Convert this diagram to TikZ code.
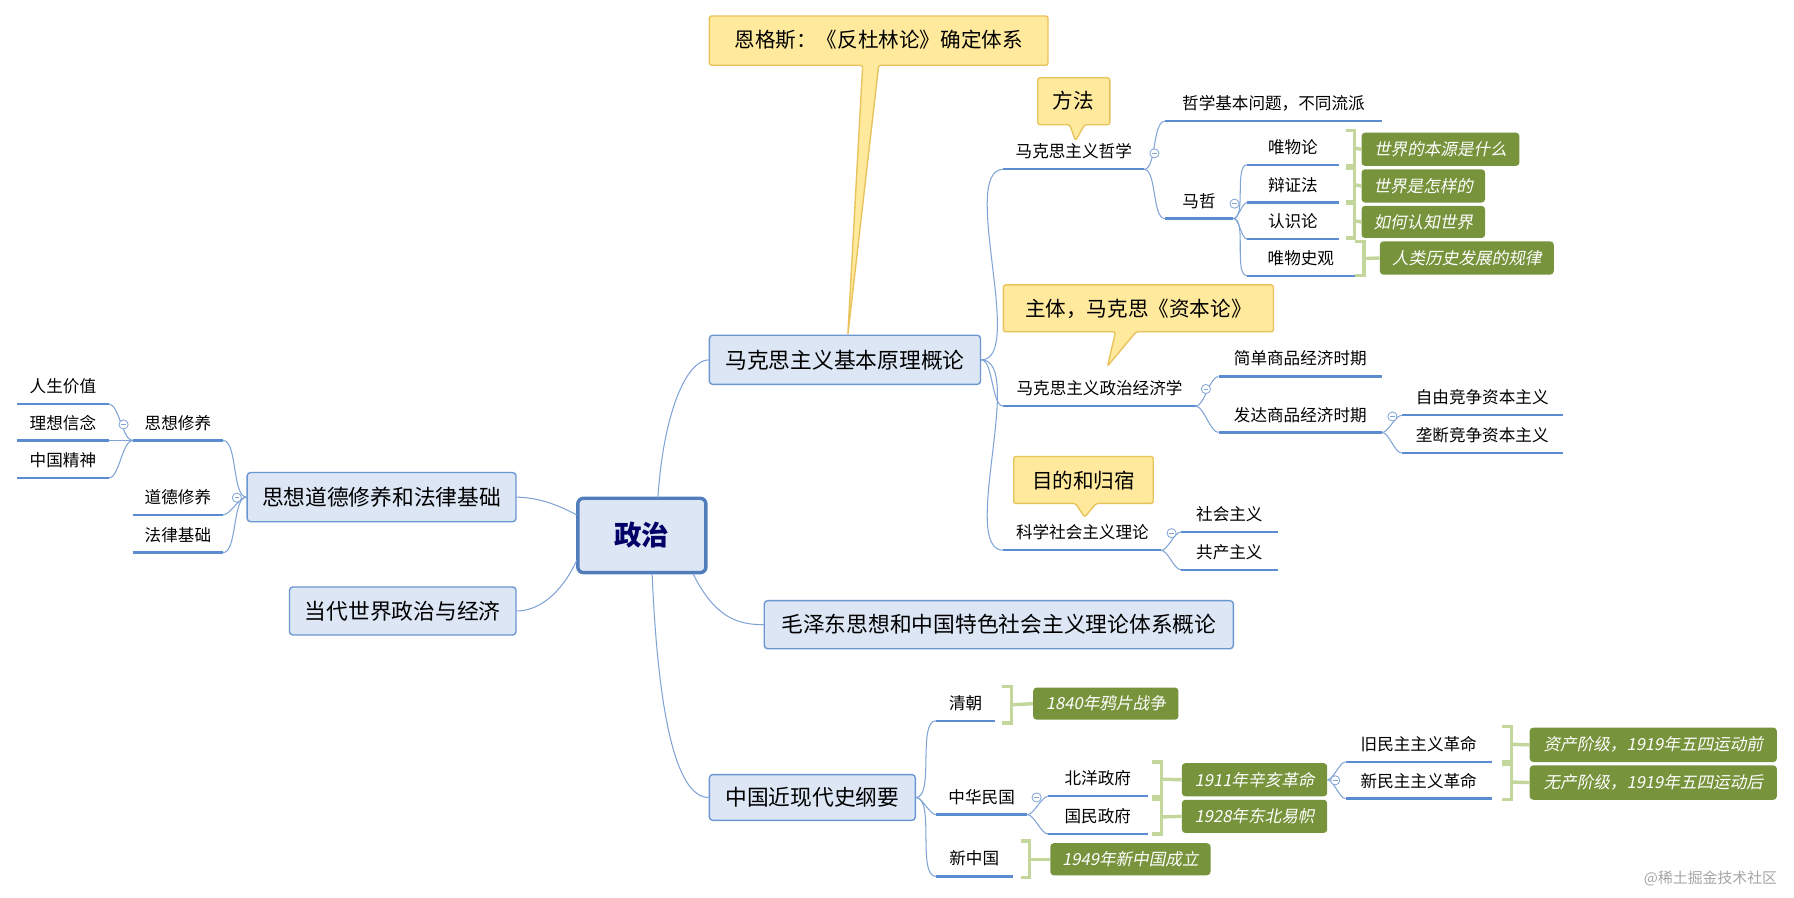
\documentclass[tikz,border=0pt]{standalone}
\usepackage{fontspec}
\setmainfont{Noto Sans CJK SC}
\newfontfamily\cjkit{Noto Sans CJK SC}[FakeSlant=0.2]
\definecolor{ul}{HTML}{5B8BD0}
\definecolor{cn}{HTML}{7FA3D6}
\definecolor{tf}{HTML}{DCE6F4}
\definecolor{tb}{HTML}{6A97D2}
\definecolor{gf}{HTML}{77933C}
\definecolor{gb}{HTML}{C3D69B}
\definecolor{yf}{HTML}{FFE99C}
\definecolor{yb}{HTML}{E8C35C}
\tikzset{
 sub/.style={anchor=base,inner sep=0pt,font=\fontsize{14.5}{16}\selectfont},
 uline/.style={draw=ul,line width=2pt},
 conn/.style={draw=cn,line width=0.9pt},
 topic/.style={draw=tb,fill=tf,line width=1.2pt,rounded corners=3pt,font=\fontsize{19}{22}\selectfont,inner sep=0pt},
 greenbox/.style={fill=gf,rounded corners=3pt,text=white,font=\cjkit\fontsize{14.5}{16}\selectfont,inner sep=0pt},
 brk/.style={draw=gb,line width=3pt},
 callout/.style={draw=yb,fill=yf,line width=1.2pt,rounded corners=2pt},
 ctext/.style={font=\fontsize{18}{20}\selectfont,inner sep=0pt},
 coll/.style={circle,draw=cn,fill=white,line width=0.7pt,minimum size=8pt,inner sep=0pt,
   path picture={\draw[cn,line width=0.7pt] ([xshift=-2pt]path picture bounding box.center)--([xshift=2pt]path picture bounding box.center);}},
}
\newcommand\mm[5]{%
 \node[sub] (#1) at ({(#2+#3)/2},{#4-10}) {#5};
 \coordinate (#1-l) at (#2,#4); \coordinate (#1-r) at (#3,#4);
 \draw[uline] (#1-l)--(#1-r);}
\newcommand\tp[6]{%
 \node[topic,minimum width={#3-#2},minimum height={#5-#4}] (#1) at ({(#2+#3)/2},{(#4+#5)/2}) {#6};}
\newcommand\gbx[6]{%
 \node[greenbox,minimum width={#3-#2},minimum height={#5-#4}] (#1) at ({(#2+#3)/2},{(#4+#5)/2}) {#6};}
\newcommand\bk[4]{%
 \draw[brk] (#1,#2)--({#1+8},#2)--({#1+8},#3)--(#1,#3);
 \coordinate (#4-b) at ({#1+8},{(#2+#3)/2});
 \draw[brk] (#4-b)--(#4.west);}
\begin{document}
\begin{tikzpicture}[x=1pt,y=-1pt]
\useasboundingbox[fill=white] (0,0) rectangle (1568,784);
% center
\node[draw=ul!90!black,fill=tf,line width=3pt,rounded corners=5pt,minimum width=112pt,minimum height=65pt,font=\bfseries\fontsize{24}{26}\selectfont,text=black!60!blue] (c) at (561,468) {政治};
% topics
\tp{mk}{620}{857}{293}{336}{马克思主义基本原理概论}
\tp{sx}{216}{451}{413}{456}{思想道德修养和法律基础}
\tp{dd}{253}{451}{513}{555}{当代世界政治与经济}
\tp{mz}{668}{1078}{525}{567}{毛泽东思想和中国特色社会主义理论体系概论}
\tp{zg}{620}{800}{677}{717}{中国近现代史纲要}
\draw[conn] (575,435) .. controls (580,360) and (600,315) .. (mk.west);
\draw[conn] (504,450) .. controls (485,440) and (470,435) .. (sx.east);
\draw[conn] (504,490) .. controls (490,520) and (470,534) .. (dd.east);
\draw[conn] (606,502) .. controls (625,540) and (645,546) .. (mz.west);
\draw[conn] (570,502) .. controls (575,620) and (590,697) .. (zg.west);
% callouts
\draw[callout] (620,14)--(916,14)--(916,57)--(768,57)--(741,293)--(754,57)--(620,57)--cycle;
\node[ctext] (eg) at (768,35) {恩格斯：《反杜林论》确定体系};
\draw[callout] (907,68)--(970,68)--(970,109)--(948,109)--(940,123)--(935,109)--(907,109)--cycle;
\node[ctext] (ff) at (938,88) {方法};
\draw[callout] (877,249)--(1113,249)--(1113,290)--(993,290)--(968,320)--(975,290)--(877,290)--cycle;
\node[ctext] (zt) at (995,270) {主体，马克思《资本论》};
\draw[callout] (886,399)--(1008,399)--(1008,440)--(958,440)--(948,452)--(940,440)--(886,440)--cycle;
\node[ctext] (md) at (947,420) {目的和归宿};
% Marxism branch
\mm{zx}{877}{1000}{148}{马克思主义哲学}
\mm{jj}{877}{1045}{355}{马克思主义政治经济学}
\mm{kx}{877}{1015}{481}{科学社会主义理论}
\foreach \n in {zx,jj,kx} \draw[conn] (mk.east) to[out=0,in=180,looseness=0.6] (\n-l);
\mm{zw}{1018}{1208}{106}{哲学基本问题，不同流派}
\mm{mzh}{1018}{1078}{191}{马哲}
\foreach \n in {zw,mzh} \draw[conn] (zx-r) to[out=0,in=180,looseness=0.6] (\n-l);
\mm{wwl}{1090}{1170}{144}{唯物论}
\mm{bzf}{1090}{1170}{177}{辩证法}
\mm{rsl}{1090}{1170}{209}{认识论}
\mm{wws}{1090}{1184}{241}{唯物史观}
\foreach \n in {wwl,bzf,rsl,wws} \draw[conn] (mzh-r) to[out=0,in=180,looseness=0.6] (\n-l);
\gbx{g1}{1190}{1328}{116}{145}{世界的本源是什么}
\gbx{g2}{1190}{1298}{148}{177}{世界是怎样的}
\gbx{g3}{1190}{1298}{180}{208}{如何认知世界}
\gbx{g4}{1206}{1358}{211}{240}{人类历史发展的规律}
\bk{1176}{114}{145}{g1}
\bk{1176}{147}{176}{g2}
\bk{1176}{178}{208}{g3}
\bk{1184}{211}{241}{g4}
\mm{jd}{1065}{1208}{329}{简单商品经济时期}
\mm{fd}{1065}{1208}{378}{发达商品经济时期}
\foreach \n in {jd,fd} \draw[conn] (jj-r) to[out=0,in=180,looseness=0.6] (\n-l);
\mm{zy}{1225}{1366}{363}{自由竞争资本主义}
\mm{ld}{1225}{1366}{396}{垄断竞争资本主义}
\foreach \n in {zy,ld} \draw[conn] (fd-r) to[out=0,in=180,looseness=0.6] (\n-l);
\mm{sh}{1032}{1117}{465}{社会主义}
\mm{gc}{1032}{1117}{498}{共产主义}
\foreach \n in {sh,gc} \draw[conn] (kx-r) to[out=0,in=180,looseness=0.6] (\n-l);
\node[coll] (c1) at (1009,134) {};
\node[coll] (c2) at (1079,178) {};
\node[coll] (c3) at (1054,340) {};
\node[coll] (c4) at (1217,364) {};
\node[coll] (c5) at (1024,466) {};
% left branch
\mm{sxx}{116}{195}{385}{思想修养}
\mm{ddx}{116}{195}{450}{道德修养}
\mm{fl}{116}{195}{483}{法律基础}
\foreach \n in {sxx,ddx,fl} \draw[conn] (sx.west) to[out=180,in=0,looseness=0.6] (\n-r);
\mm{rs}{15}{95}{353}{人生价值}
\mm{lx}{15}{95}{385}{理想信念}
\mm{zj}{15}{95}{418}{中国精神}
\foreach \n in {rs,lx,zj} \draw[conn] (sxx-l) to[out=180,in=0,looseness=0.6] (\n-r);
\node[coll] (c6) at (108,371) {};
\node[coll] (c7) at (207,435) {};
% history branch
\mm{qc}{818}{870}{630}{清朝}
\mm{mg}{818}{898}{712}{中华民国}
\mm{xz}{818}{885}{766}{新中国}
\foreach \n in {qc,mg,xz} \draw[conn] (zg.east) to[out=0,in=180,looseness=0.6] (\n-l);
\mm{by}{916}{1003}{696}{北洋政府}
\mm{gm}{916}{1003}{729}{国民政府}
\foreach \n in {by,gm} \draw[conn] (mg-r) to[out=0,in=180,looseness=0.6] (\n-l);
\mm{jm}{1176}{1304}{666}{旧民主主义革命}
\mm{xm}{1176}{1304}{698}{新民主主义革命}
\gbx{h1}{903}{1030}{601}{629}{1840年鸦片战争}
\gbx{h2}{1033}{1160}{667}{696}{1911年辛亥革命}
\gbx{h3}{1033}{1160}{699}{728}{1928年东北易帜}
\gbx{h4}{918}{1058}{737}{765}{1949年新中国成立}
\gbx{h5}{1337}{1553}{636}{666}{资产阶级，1919年五四运动前}
\gbx{h6}{1337}{1553}{669}{699}{无产阶级，1919年五四运动后}
\foreach \n in {jm,xm} \draw[conn] (h2.east) to[out=0,in=180,looseness=0.6] (\n-l);
\bk{876}{600}{632}{h1}
\bk{1007}{666}{696}{h2}
\bk{1007}{699}{729}{h3}
\bk{892}{735}{767}{h4}
\bk{1313}{635}{666}{h5}
\bk{1313}{668}{699}{h6}
\node[coll] (c8) at (906,697) {};
\node[coll] (c9) at (1167,682) {};
\node[text=gray!70,font=\fontsize{13}{14}\selectfont] (wm) at (1495,768) {@稀土掘金技术社区};
\end{tikzpicture}
\end{document}
